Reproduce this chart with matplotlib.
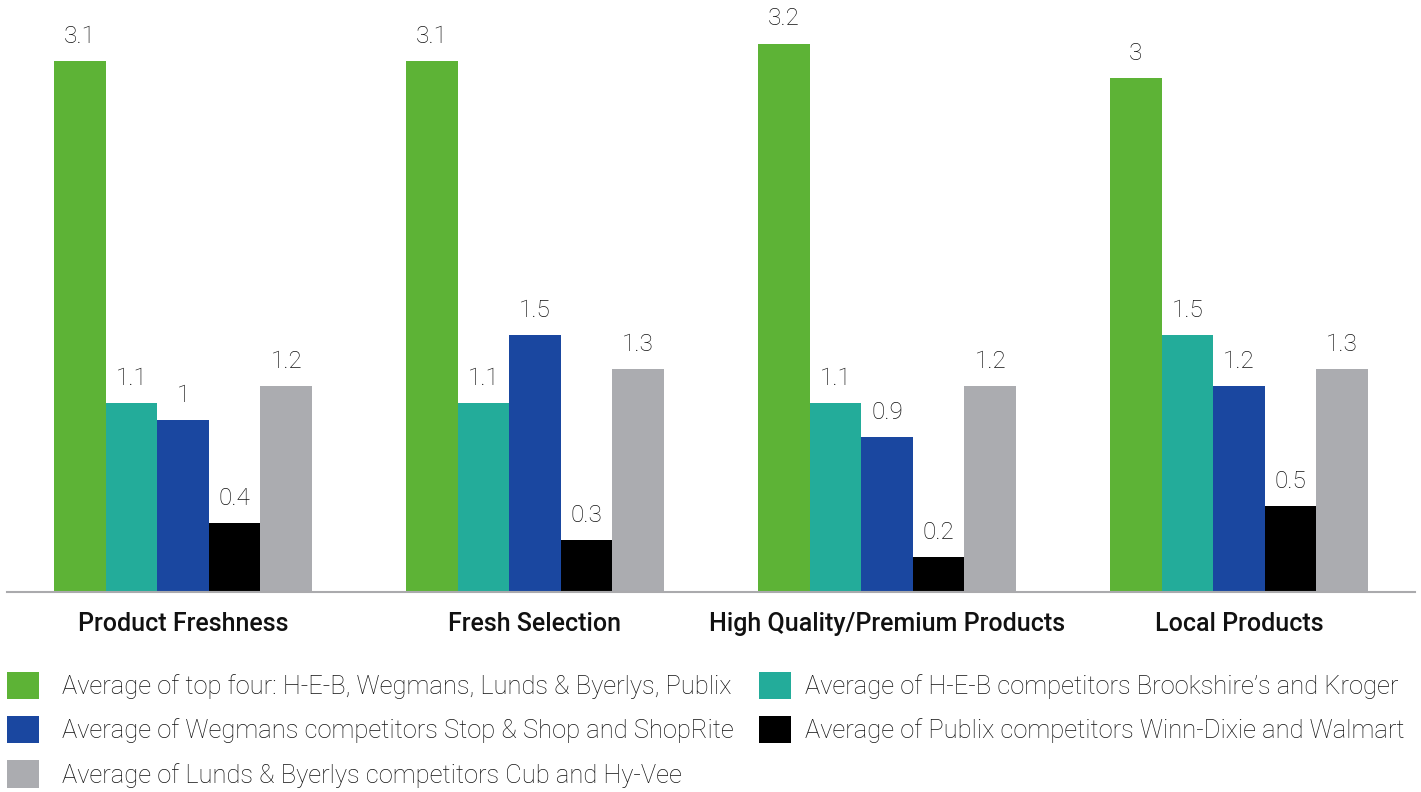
import matplotlib
matplotlib.use("Agg")
import matplotlib.pyplot as plt
from matplotlib.patches import Patch
import numpy as np

categories = ["Product Freshness", "Fresh Selection", "High Quality/Premium Products", "Local Products"]
series_names = [
    "Average of top four: H-E-B, Wegmans, Lunds & Byerlys, Publix",
    "Average of H-E-B competitors Brookshire\u2019s and Kroger",
    "Average of Wegmans competitors Stop & Shop and ShopRite",
    "Average of Publix competitors Winn-Dixie and Walmart",
    "Average of Lunds & Byerlys competitors Cub and Hy-Vee",
]
top_four = [3.1, 3.1, 3.2, 3.0]
heb_comp = [1.1, 1.1, 1.1, 1.5]
wegmans_comp = [1.0, 1.5, 0.9, 1.2]
publix_comp = [0.4, 0.3, 0.2, 0.5]
lunds_comp = [1.2, 1.3, 1.2, 1.3]
series_values = [top_four, heb_comp, wegmans_comp, publix_comp, lunds_comp]
colors = ["#5db336", "#23ac9a", "#1a47a0", "#000000", "#abacb0"]

plt.rcParams['font.family'] = ['Roboto', 'DejaVu Sans']

W, H = 1421, 792
fig = plt.figure(figsize=(W / 100, H / 100), dpi=100)
left, right = 7 / W, 1415 / W
bottom = 1 - 591.5 / H
top = 1.0
ax = fig.add_axes([left, bottom, right - left, top - bottom])

x = np.arange(len(categories))
bw = 0.1466
for i, (vals, c) in enumerate(zip(series_values, colors)):
    pos = x + (i - 2) * bw
    bars = ax.bar(pos, vals, width=bw, color=c, linewidth=0, zorder=2)
    for b, v in zip(bars, vals):
        lab = f"{v:g}"
        ax.annotate(lab, (b.get_x() + b.get_width() / 2, b.get_height()),
                    xytext=(0, 13), textcoords="offset points",
                    ha="center", va="baseline", fontsize=17.5,
                    fontweight="light", color="#111111")

ax.set_xlim(-0.5, 3.5)
ax.set_ylim(0, 591.5 / 171.25)
for s in ["top", "right", "left"]:
    ax.spines[s].set_visible(False)
ax.spines["bottom"].set_color("#aaaaad")
ax.spines["bottom"].set_linewidth(1.5)
ax.set_yticks([])
ax.set_xticks(x)
ax.set_xticklabels(categories, fontsize=18, fontweight="medium", color="#111111")
ax.tick_params(axis="x", length=0, pad=15)

handles = [Patch(facecolor=c, edgecolor="none") for c in colors]
fs = 18.4
fpx = fs * 100 / 72
common = dict(frameon=False, fontsize=fs, handlelength=32 / fpx, handleheight=32 / fpx,
              labelspacing=0.67, borderaxespad=0, borderpad=0)
leg1 = fig.legend([handles[0], handles[2], handles[4]],
                  [series_names[0], series_names[2], series_names[4]],
                  loc="upper left", bbox_to_anchor=(7 / W, 1 - 672 / H),
                  handletextpad=23 / fpx, **common)
leg2 = fig.legend([handles[1], handles[3]],
                  [series_names[1], series_names[3]],
                  loc="upper left", bbox_to_anchor=(759 / W, 1 - 672 / H),
                  handletextpad=14 / fpx, **common)
for leg in (leg1, leg2):
    for t in leg.get_texts():
        t.set_fontweight("light")
        t.set_color("#111111")

fig.savefig("out.png", dpi=100)
